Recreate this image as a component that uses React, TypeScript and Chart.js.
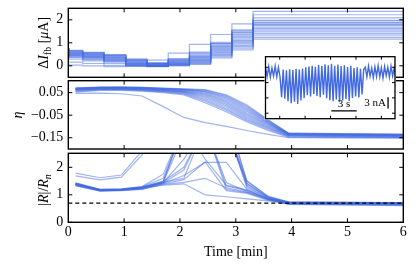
import React, { useEffect, useRef } from "react";
import { Chart, registerables } from "chart.js";
Chart.register(...registerables);

const W = 416;
const H = 269;
const BLUE = "rgba(65,105,225,0.5)";
const BLUE_SOLID = "rgb(65,105,225)";
const FONT = "Liberation Serif";

// ---------- Panel 1: feedback current steps ----------
const STEP_TIMES = [0.02, 0.26, 0.64, 1.03, 1.41, 1.79, 2.17, 2.55, 2.93, 3.31, 3.69, 6.0];
const DI_A = [0.07, 0.03, 0.0, -0.04, -0.03, 0.25, 0.55, 0.93, 1.36, 1.82, 2.37];
const DI_B = [0.15, 0.16, 0.1, 0.02, 0.0, 0.13, 0.31, 0.6, 1.02, 1.52, 2.22];
const DI_C = [0.36, 0.29, 0.21, 0.1, 0.03, 0.11, 0.28, 0.56, 0.97, 1.47, 2.08];
const DI_L1 = [0.77, 0.67, 0.59, 0.49, 0.3, 0.12, 0.26, 0.52, 0.96, 1.56, 1.98];
const DI_L2 = [0.76, 0.66, 0.57, 0.47, 0.27, 0.1, 0.23, 0.47, 0.91, 1.44, 1.95];
const DI_L3 = [0.74, 0.63, 0.56, 0.45, 0.26, 0.09, 0.2, 0.43, 0.87, 1.38, 1.88];
const DI_L4 = [0.72, 0.61, 0.53, 0.43, 0.23, 0.06, 0.19, 0.4, 0.83, 1.33, 1.86];
const DI_L5 = [0.7, 0.59, 0.51, 0.41, 0.21, 0.05, 0.16, 0.37, 0.79, 1.27, 1.8];
const DI_L6 = [0.69, 0.57, 0.49, 0.38, 0.19, 0.04, 0.14, 0.33, 0.75, 1.22, 1.77];
const DI_L7 = [0.67, 0.55, 0.47, 0.36, 0.16, 0.03, 0.12, 0.3, 0.7, 1.16, 1.73];
const DI_L8 = [0.65, 0.53, 0.44, 0.34, 0.14, 0.02, 0.11, 0.27, 0.66, 1.1, 1.65];
const DI_L9 = [0.63, 0.51, 0.42, 0.31, 0.12, 0.01, 0.09, 0.24, 0.61, 1.06, 1.61];
const DI_L10 = [0.61, 0.49, 0.4, 0.29, 0.1, 0.0, 0.07, 0.21, 0.58, 1.01, 1.55];
const DI_L11 = [0.59, 0.46, 0.38, 0.27, 0.08, -0.01, 0.06, 0.18, 0.53, 0.95, 1.48];
const DI_L12 = [0.57, 0.44, 0.36, 0.24, 0.06, -0.02, 0.04, 0.15, 0.49, 0.89, 1.41];
const DI_L13 = [0.55, 0.42, 0.33, 0.22, 0.04, -0.03, 0.03, 0.12, 0.44, 0.83, 1.33];
const DI_L14 = [0.53, 0.39, 0.3, 0.19, 0.02, -0.03, 0.02, 0.09, 0.39, 0.77, 1.24];
const DI_L15 = [0.5, 0.36, 0.27, 0.16, 0.0, -0.04, 0.0, 0.06, 0.34, 0.69, 1.16];
const DI_SERIES = [DI_A, DI_B, DI_C, DI_L1, DI_L2, DI_L3, DI_L4, DI_L5, DI_L6, DI_L7, DI_L8, DI_L9, DI_L10, DI_L11, DI_L12, DI_L13, DI_L14, DI_L15];
const DI_TICKS = [0, 1, 2];

// ---------- Panels 2 & 3: sweep points ----------
const SWEEP_TIMES = [0.13, 0.57, 0.95, 1.32, 1.7, 2.07, 2.45, 2.83, 3.2, 3.58, 3.95, 6.0];

const ETA_O = [0.047, 0.048, 0.045, 0.035, -0.012, -0.06, -0.083, -0.1, -0.118, -0.135, -0.15, -0.152];
const ETA_E1 = [0.052, 0.06, 0.06, 0.057, 0.05, 0.04, 0.005, -0.035, -0.08, -0.118, -0.148, -0.15];
const ETA_E2 = [0.055, 0.062, 0.062, 0.059, 0.053, 0.044, 0.012, -0.028, -0.075, -0.113, -0.145, -0.148];
const ETA_E3 = [0.058, 0.064, 0.064, 0.061, 0.055, 0.047, 0.018, -0.022, -0.07, -0.108, -0.143, -0.146];
const ETA_E4 = [0.06, 0.066, 0.066, 0.063, 0.057, 0.05, 0.024, -0.015, -0.064, -0.104, -0.141, -0.145];
const ETA_E5 = [0.062, 0.067, 0.067, 0.064, 0.059, 0.052, 0.03, -0.008, -0.058, -0.1, -0.14, -0.143];
const ETA_E6 = [0.063, 0.068, 0.068, 0.066, 0.06, 0.054, 0.035, -0.002, -0.052, -0.096, -0.138, -0.142];
const ETA_E7 = [0.064, 0.069, 0.069, 0.067, 0.062, 0.056, 0.04, 0.004, -0.046, -0.092, -0.137, -0.141];
const ETA_E8 = [0.065, 0.07, 0.07, 0.068, 0.063, 0.058, 0.044, 0.01, -0.04, -0.088, -0.136, -0.14];
const ETA_E9 = [0.066, 0.071, 0.071, 0.069, 0.065, 0.06, 0.048, 0.016, -0.034, -0.085, -0.135, -0.139];
const ETA_E10 = [0.067, 0.072, 0.072, 0.07, 0.066, 0.062, 0.052, 0.022, -0.028, -0.082, -0.134, -0.138];
const ETA_E11 = [0.068, 0.073, 0.073, 0.071, 0.067, 0.063, 0.055, 0.027, -0.022, -0.079, -0.133, -0.137];
const ETA_E12 = [0.069, 0.073, 0.074, 0.072, 0.068, 0.064, 0.058, 0.032, -0.016, -0.076, -0.132, -0.136];
const ETA_E13 = [0.07, 0.074, 0.075, 0.073, 0.069, 0.066, 0.061, 0.036, -0.01, -0.073, -0.131, -0.135];
const ETA_E14 = [0.071, 0.075, 0.075, 0.074, 0.07, 0.067, 0.063, 0.04, -0.005, -0.07, -0.13, -0.134];
const ETA_SERIES = [ETA_O, ETA_E1, ETA_E2, ETA_E3, ETA_E4, ETA_E5, ETA_E6, ETA_E7, ETA_E8, ETA_E9, ETA_E10, ETA_E11, ETA_E12, ETA_E13, ETA_E14];
const ETA_TICKS = [-0.15, -0.05, 0.05];

const R_U1 = [1.79, 1.62, 1.72, 2.6, 4.0, 4.0, 4.0, 4.0, 1.5, 0.95, 0.74, 0.72];
const R_U2 = [1.69, 1.54, 1.64, 2.45, 3.8, 4.0, 4.0, 4.0, 1.42, 0.92, 0.73, 0.71];
const R_LO = [1.38, 1.2, 1.2, 1.25, 1.35, 1.4, 1.0, 0.93, 0.85, 0.78, 0.72, 0.7];
const R_M1 = [1.32, 1.13, 1.15, 1.2, 1.38, 1.45, 1.6, 1.25, 1.1, 0.82, 0.66, 0.62];
const R_M2 = [1.34, 1.14, 1.16, 1.21, 1.4, 1.55, 2.2, 1.15, 1.05, 0.8, 0.65, 0.61];
const R_M3 = [1.35, 1.15, 1.17, 1.22, 1.42, 1.7, 2.18, 2.18, 1.2, 0.85, 0.67, 0.63];
const R_M4 = [1.36, 1.15, 1.17, 1.23, 1.43, 1.9, 3.5, 1.32, 1.15, 0.84, 0.68, 0.64];
const R_M5 = [1.37, 1.16, 1.18, 1.24, 1.44, 2.3, 3.5, 3.5, 1.3, 0.87, 0.69, 0.65];
const R_M6 = [1.38, 1.16, 1.18, 1.25, 1.45, 3.2, 3.5, 1.2, 1.08, 0.83, 0.7, 0.66];
const R_M7 = [1.39, 1.17, 1.19, 1.26, 1.46, 1.6, 3.5, 3.5, 1.4, 0.9, 0.7, 0.67];
const R_M8 = [1.4, 1.17, 1.19, 1.27, 1.47, 3.5, 3.5, 3.5, 1.25, 0.88, 0.71, 0.68];
const R_M9 = [1.41, 1.18, 1.2, 1.27, 1.48, 2.0, 3.5, 1.45, 1.12, 0.86, 0.72, 0.69];
const R_M10 = [1.42, 1.18, 1.2, 1.28, 1.5, 3.5, 3.5, 3.5, 1.5, 0.93, 0.72, 0.7];
const R_M11 = [1.43, 1.19, 1.21, 1.29, 1.6, 3.5, 2.3, 1.35, 1.18, 0.85, 0.73, 0.7];
const R_M12 = [1.44, 1.2, 1.22, 1.3, 1.75, 3.5, 3.5, 3.5, 1.35, 0.91, 0.74, 0.71];
const R_SERIES = [R_U1, R_U2, R_LO, R_M1, R_M2, R_M3, R_M4, R_M5, R_M6, R_M7, R_M8, R_M9, R_M10, R_M11, R_M12];
const R_TICKS = [0, 1, 2];
const R_THRESHOLD = 0.7;
const TIME_TICKS = [0, 1, 2, 3, 4, 5, 6];

// ---------- Inset: current trace ----------
const INSET_T0 = -1.68;
const INSET_DT = 0.19;
const INSET_SIGNAL = [
  -0.1, -2.4, 0.2, -2.6, -0.2, -2.3, 0.3, -2.5, 0.0, -2.4,
  -7.8, -0.6, -8.2, -0.8, -8.9, -0.5, -9.4, -0.7, -9.0, -0.4, -9.6, -0.6, -8.7, -0.3,
  -8.0, 0.0, -7.3, 0.2, -7.6, 0.4, -7.0, 0.1, -7.5, 0.6, -7.8, 0.3, -7.2, 0.8, -8.1, 0.5,
  -8.6, 0.9, -8.9, 0.4, -8.4, 0.7, -9.1, 0.3, -8.7, 0.5, -8.3, 0.1, -8.8, 0.4, -8.0, -0.2,
  -7.6, 0.0, -7.9, -0.4, -7.1, -0.6,
  0.0, -2.5, 0.3, -2.3, -0.2, -2.7, 0.1, -2.4, 0.4, -2.5, -0.1, -2.8, 0.2, -2.2, 0.0, -2.6,
  0.3, -2.3, -0.1, -2.5,
];
const INSET_X_TICKS = [0, 3, 6, 9, 12];
const INSET_Y_TICKS = [0, -4, -8, -12];
const BAR_TIME_X = [6.09, 9.09];
const BAR_TIME_Y = -11.42;
const BAR_CURRENT_Y = [-7.8, -10.8];
const BAR_CURRENT_X = 12.79;
const BAR_TIME_LABEL = "3 s";
const BAR_CURRENT_LABEL = "3 nA";

// ---------- layout ----------
const AREA_LEFT = 68.3;
const AREA_RIGHT = 403.3;

type Part = { t: string; italic?: boolean; sub?: boolean };

function makeFrame(xTicks: number[], yTicks: number[], fillWhite = false, lw = 1.4, tl = 4) {
  return {
    id: "frame",
    beforeDatasetsDraw(chart: any) {
      if (!fillWhite) return;
      const a = chart.chartArea;
      const ctx = chart.ctx;
      ctx.save();
      ctx.fillStyle = "#fff";
      ctx.fillRect(a.left - 1, a.top - 1, a.right - a.left + 2, a.bottom - a.top + 2);
      ctx.restore();
    },
    afterDatasetsDraw(chart: any) {
      const a = chart.chartArea;
      const ctx = chart.ctx;
      const xs = chart.scales.x;
      const ys = chart.scales.y;
      ctx.save();
      ctx.strokeStyle = "#000";
      ctx.lineWidth = 1;
      ctx.beginPath();
      for (const v of xTicks) {
        const p = xs.getPixelForValue(v);
        ctx.moveTo(p, a.top);
        ctx.lineTo(p, a.top + tl);
        ctx.moveTo(p, a.bottom);
        ctx.lineTo(p, a.bottom - tl);
      }
      for (const v of yTicks) {
        const p = ys.getPixelForValue(v);
        ctx.moveTo(a.left, p);
        ctx.lineTo(a.left + tl, p);
        ctx.moveTo(a.right, p);
        ctx.lineTo(a.right - tl, p);
      }
      ctx.stroke();
      ctx.lineWidth = lw;
      ctx.strokeRect(a.left, a.top, a.right - a.left, a.bottom - a.top);
      ctx.restore();
    },
  };
}

function makeYTitle(cx: number, cy: number, parts: Part[], size = 14) {
  return {
    id: "ytitle",
    afterDraw(chart: any) {
      const ctx = chart.ctx;
      ctx.save();
      ctx.translate(cx, cy);
      ctx.rotate(-Math.PI / 2);
      const fontOf = (p: Part) => `${p.italic ? "italic " : ""}${p.sub ? size * 0.7 : size}px "${FONT}"`;
      let total = 0;
      for (const p of parts) {
        ctx.font = fontOf(p);
        total += ctx.measureText(p.t).width;
      }
      let x = -total / 2;
      ctx.fillStyle = "#000";
      ctx.textBaseline = "alphabetic";
      for (const p of parts) {
        ctx.font = fontOf(p);
        ctx.fillText(p.t, x, size * 0.33 + (p.sub ? size * 0.22 : 0));
        x += ctx.measureText(p.t).width;
      }
      ctx.restore();
    },
  };
}

function zeroPad(s: any) {
  s.paddingTop = 0;
  s.paddingBottom = 0;
  s.paddingLeft = 0;
  s.paddingRight = 0;
}

const fmtMinus = (v: number, digits: number) => (digits > 0 ? v.toFixed(digits) : String(v)).replace("-", "\u2212");

function panelConfig(o: {
  datasets: any[];
  yMin: number;
  yMax: number;
  yTicks: number[];
  digits: number;
  top: number;
  bottom: number;
  showX: boolean;
  plugins: any[];
}): any {
  const tickFont = { family: FONT, size: 14 };
  return {
    type: "line",
    data: { datasets: o.datasets },
    plugins: o.plugins,
    options: {
      responsive: false,
      animation: false,
      devicePixelRatio: 1,
      events: [],
      layout: {
        padding: {
          left: 0,
          right: W - AREA_RIGHT,
          top: o.top,
          bottom: o.showX ? 0 : H - o.bottom,
        },
      },
      plugins: { legend: { display: false }, tooltip: { enabled: false } },
      elements: { point: { radius: 0 }, line: { tension: 0 } },
      scales: {
        x: {
          type: "linear",
          min: 0,
          max: 6,
          display: o.showX,
          grid: { display: false, drawTicks: false },
          border: { display: false },
          afterBuildTicks: (s: any) => {
            s.ticks = TIME_TICKS.map((v) => ({ value: v }));
          },
          ticks: {
            autoSkip: false,
            maxRotation: 0,
            padding: 2,
            color: "#000",
            font: tickFont,
            callback: (v: any) => String(v),
          },
          title: {
            display: o.showX,
            text: "Time [min]",
            color: "#000",
            font: { family: FONT, size: 14 },
            padding: { top: 0, bottom: 8.3 },
          },
          afterFit: (s: any) => {
            if (o.showX) s.height = H - o.bottom;
            zeroPad(s);
          },
        },
        y: {
          type: "linear",
          min: o.yMin,
          max: o.yMax,
          grid: { display: false, drawTicks: false },
          border: { display: false },
          afterBuildTicks: (s: any) => {
            s.ticks = o.yTicks.map((v) => ({ value: v }));
          },
          ticks: {
            padding: 5,
            color: "#000",
            font: tickFont,
            callback: (v: any) => fmtMinus(Number(v), o.digits),
          },
          afterFit: (s: any) => {
            s.width = AREA_LEFT;
            zeroPad(s);
          },
        },
      },
    },
  };
}

function blueLine(points: { x: number; y: number }[], stepped: any = false) {
  return {
    data: points,
    borderColor: BLUE,
    borderWidth: 1.2,
    pointRadius: 0,
    fill: false,
    stepped,
  };
}

export default function App() {
  const r1 = useRef<HTMLCanvasElement>(null);
  const r2 = useRef<HTMLCanvasElement>(null);
  const r3 = useRef<HTMLCanvasElement>(null);
  const r4 = useRef<HTMLCanvasElement>(null);

  useEffect(() => {
    const charts: Chart[] = [];

    // Panel 1
    const ds1 = DI_SERIES.map((lv) =>
      blueLine(
        STEP_TIMES.map((t, i) => ({ x: t, y: lv[Math.min(i, lv.length - 1)] })),
        "after"
      )
    );
    charts.push(
      new Chart(
        r1.current!,
        panelConfig({
          datasets: ds1,
          yMin: -0.5,
          yMax: 2.5,
          yTicks: DI_TICKS,
          digits: 0,
          top: 8.3,
          bottom: 77.3,
          showX: false,
          plugins: [
            makeFrame(TIME_TICKS.slice(1, -1), DI_TICKS),
            makeYTitle(43, 42.8, [
              { t: "\u0394" },
              { t: "I", italic: true },
              { t: "fb", sub: true },
              { t: " [" },
              { t: "\u03bc", italic: true },
              { t: "A]" },
            ]),
          ],
        })
      )
    );

    // Panel 2
    const ds2 = ETA_SERIES.map((s) => blueLine(SWEEP_TIMES.map((t, i) => ({ x: t, y: s[i] }))));
    charts.push(
      new Chart(
        r2.current!,
        panelConfig({
          datasets: ds2,
          yMin: -0.2,
          yMax: 0.103,
          yTicks: ETA_TICKS,
          digits: 2,
          top: 80.7,
          bottom: 149,
          showX: false,
          plugins: [makeFrame(TIME_TICKS.slice(1, -1), ETA_TICKS), makeYTitle(17, 115, [{ t: "\u03b7", italic: true }])],
        })
      )
    );

    // Panel 3
    const ds3: any[] = [
      {
        data: [
          { x: 0, y: R_THRESHOLD },
          { x: 6, y: R_THRESHOLD },
        ],
        borderColor: "#000",
        borderWidth: 1.3,
        borderDash: [4, 3],
        pointRadius: 0,
        fill: false,
      },
      ...R_SERIES.map((s) => blueLine(SWEEP_TIMES.map((t, i) => ({ x: t, y: s[i] })))),
    ];
    charts.push(
      new Chart(
        r3.current!,
        panelConfig({
          datasets: ds3,
          yMin: 0,
          yMax: 2.51,
          yTicks: R_TICKS,
          digits: 0,
          top: 153.3,
          bottom: 222.3,
          showX: true,
          plugins: [
            makeFrame(TIME_TICKS.slice(1, -1), R_TICKS),
            makeYTitle(43, 190, [
              { t: "|" },
              { t: "R", italic: true },
              { t: "|/" },
              { t: "R", italic: true },
              { t: "n", italic: true, sub: true },
            ]),
          ],
        })
      )
    );

    // Inset
    const insetPts = INSET_SIGNAL.map((v, i) => ({ x: INSET_T0 + i * INSET_DT, y: v }));
    const labelPlugin = {
      id: "insetLabels",
      afterDatasetsDraw(chart: any) {
        const ctx = chart.ctx;
        const xs = chart.scales.x;
        const ys = chart.scales.y;
        ctx.save();
        ctx.fillStyle = "#000";
        ctx.font = `11px "${FONT}"`;
        ctx.textAlign = "center";
        ctx.textBaseline = "bottom";
        ctx.fillText(
          BAR_TIME_LABEL,
          xs.getPixelForValue((BAR_TIME_X[0] + BAR_TIME_X[1]) / 2),
          ys.getPixelForValue(BAR_TIME_Y) - 1
        );
        ctx.textAlign = "right";
        ctx.textBaseline = "middle";
        ctx.fillText(
          BAR_CURRENT_LABEL,
          xs.getPixelForValue(BAR_CURRENT_X) - 2,
          ys.getPixelForValue((BAR_CURRENT_Y[0] + BAR_CURRENT_Y[1]) / 2)
        );
        ctx.restore();
      },
    };
    const inLeft = 265.5;
    const inRight = 395;
    const inTop = 56.7;
    const inBottom = 118.7;
    charts.push(
      new Chart(r4.current!, {
        type: "line",
        data: {
          datasets: [
            {
              data: BAR_TIME_X.map((x) => ({ x, y: BAR_TIME_Y })),
              borderColor: "#000",
              borderWidth: 1.3,
              pointRadius: 0,
              fill: false,
            },
            {
              data: BAR_CURRENT_Y.map((y) => ({ x: BAR_CURRENT_X, y })),
              borderColor: "#000",
              borderWidth: 1.3,
              pointRadius: 0,
              fill: false,
            },
            {
              data: insetPts,
              borderColor: BLUE_SOLID,
              borderWidth: 1.4,
              pointRadius: 0,
              fill: false,
            },
          ],
        },
        plugins: [makeFrame(INSET_X_TICKS, INSET_Y_TICKS, true, 1.3, 3), labelPlugin],
        options: {
          responsive: false,
          animation: false,
          devicePixelRatio: 1,
          events: [],
          layout: { padding: { left: inLeft, right: W - inRight, top: inTop, bottom: H - inBottom } },
          plugins: { legend: { display: false }, tooltip: { enabled: false } },
          elements: { line: { tension: 0 } },
          scales: {
            x: { type: "linear", min: -1.68, max: 13.61, display: false, afterFit: zeroPad },
            y: { type: "linear", min: -13.44, max: 2.77, display: false, afterFit: zeroPad },
          },
        },
      } as any)
    );

    return () => charts.forEach((c) => c.destroy());
  }, []);

  const cs: React.CSSProperties = { position: "absolute", left: 0, top: 0, width: W, height: H };
  return (
    <div style={{ position: "absolute", left: 0, top: 0, width: W, height: H, background: "#fff" }}>
      <canvas ref={r1} width={W} height={H} style={cs} />
      <canvas ref={r2} width={W} height={H} style={cs} />
      <canvas ref={r3} width={W} height={H} style={cs} />
      <canvas ref={r4} width={W} height={H} style={cs} />
    </div>
  );
}
